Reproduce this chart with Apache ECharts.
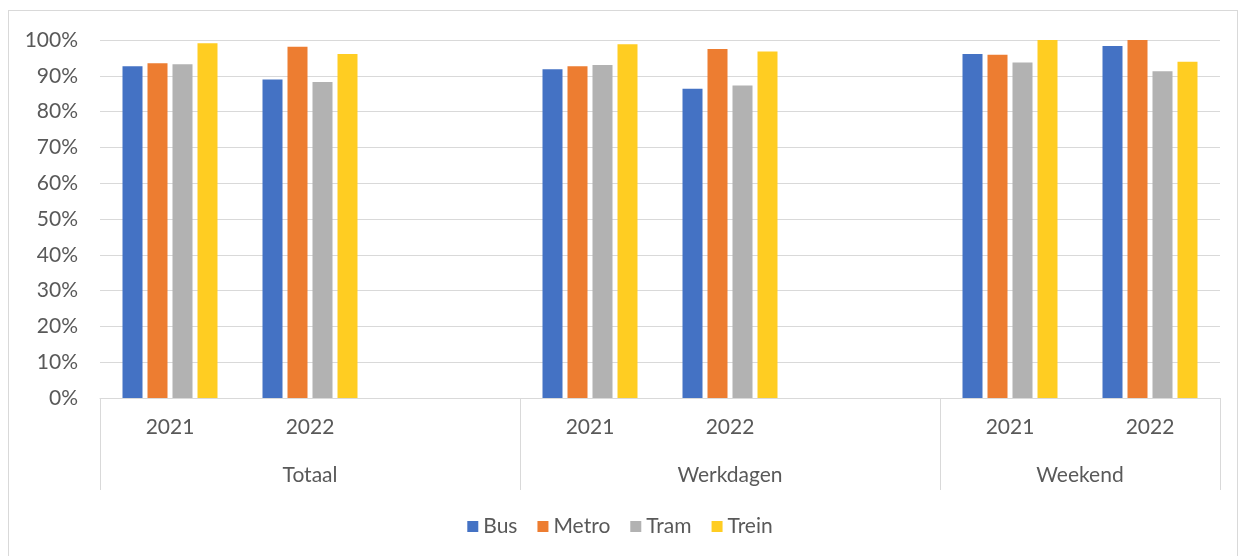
<!DOCTYPE html>
<html>
<head>
<meta charset="utf-8">
<script src="https://cdn.jsdelivr.net/npm/echarts@6/dist/echarts.min.js"></script>
<style>
  html, body { margin: 0; padding: 0; background: #fff; }
  #frame {
    position: absolute; left: 8px; top: 10px; width: 1230px; height: 560px;
    border: 1px solid #d9d9d9; box-sizing: border-box;
  }
  #chart { position: absolute; left: 0; top: 0; width: 1240px; height: 556px; }
</style>
</head>
<body>
<div id="frame"></div>
<div id="chart"></div>
<script>
// year slots, with an empty slot separating the groups
const years = ["2021", "2022", "", "2021", "2022", "", "2021", "2022"];
// group labels on a 17-point half-slot scale (boundaries at 0, 6, 12, 16)
const groupLabels = ["", "", "", "Totaal", "", "", "", "", "", "Werkdagen", "", "", "", "", "Weekend", "", ""];
const groupBounds = [0, 6, 12, 16];

const bus   = [0.927, 0.890, null, 0.918, 0.864, null, 0.961, 0.983];
const metro = [0.935, 0.981, null, 0.927, 0.975, null, 0.959, 1.000];
const tram  = [0.932, 0.883, null, 0.930, 0.873, null, 0.937, 0.913];
const trein = [0.991, 0.961, null, 0.988, 0.968, null, 1.000, 0.939];

const font = "Lato, 'Open Sans', sans-serif";
const textColor = "#595959";
const lineColor = "#d9d9d9";

const chart = echarts.init(document.getElementById("chart"));

function bar(name, data, color) {
  return {
    name: name,
    type: "bar",
    data: data,
    barWidth: 20,
    barGap: "25%",
    itemStyle: { color: color },
  };
}

chart.setOption({
  animation: false,
  textStyle: { fontFamily: font },
  grid: { left: 100, right: 20, top: 40, bottom: 158 },
  legend: {
    bottom: 14,
    icon: "rect",
    itemWidth: 11,
    itemHeight: 11,
    itemGap: 20,
    textStyle: { color: textColor, fontSize: 21, fontFamily: font },
  },
  xAxis: [
    {
      type: "category",
      data: years,
      axisLine: { lineStyle: { color: lineColor, width: 1 } },
      axisTick: { show: false },
      axisLabel: { color: textColor, fontSize: 21, margin: 19, interval: 0 },
    },
    {
      type: "category",
      data: groupLabels,
      boundaryGap: false,
      position: "bottom",
      axisLine: { show: false },
      axisTick: {
        show: true,
        length: 92,
        interval: (i) => groupBounds.includes(i),
        lineStyle: { color: lineColor, width: 1 },
      },
      axisLabel: { color: textColor, fontSize: 21, margin: 67, interval: 0 },
    },
  ],
  yAxis: {
    type: "value",
    min: 0,
    max: 1,
    interval: 0.1,
    axisLine: { show: false },
    axisTick: { show: false },
    axisLabel: {
      color: textColor,
      fontSize: 21,
      margin: 22,
      formatter: (v) => Math.round(v * 100) + "%",
    },
    splitLine: { lineStyle: { color: lineColor, width: 1 } },
  },
  series: [
    bar("Bus", bus, "#4472c4"),
    bar("Metro", metro, "#ed7d31"),
    bar("Tram", tram, "#b2b2b2"),
    bar("Trein", trein, "#ffcd22"),
  ],
});
</script>
</body>
</html>
